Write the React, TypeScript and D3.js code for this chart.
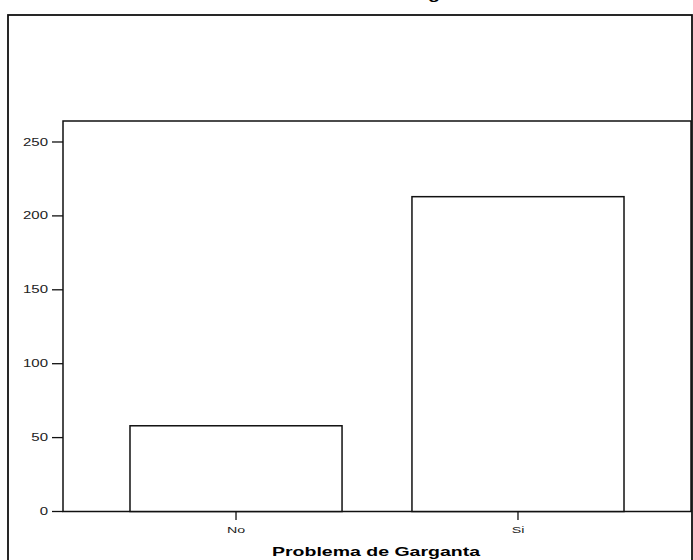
import React from "react";
import * as d3 from "d3";

const categories: string[] = ["No", "Si"];
const counts: number[] = [58, 213];
const yTicks: number[] = [0, 50, 100, 150, 200, 250];
const chartTitle = "Problema de Garganta";
const xAxisTitle = "Problema de Garganta";

const W = 693;
const H = 560;
const plot = { left: 63, right: 691, top: 121, bottom: 511.5 };
const SX = 1.5; // horizontal stretch of the original text

export default function App() {
  const x = d3
    .scaleBand<string>()
    .domain(categories)
    .range([plot.left, plot.right])
    .paddingInner(0.248)
    .paddingOuter(0.2376);
  const y = d3.scaleLinear().domain([0, 264.2]).range([plot.bottom, plot.top]);
  const cx = (plot.left + plot.right) / 2;
  const font = "Arial, 'Liberation Sans', Helvetica, sans-serif";

  return (
    <svg
      width={W}
      height={H}
      style={{ position: "absolute", left: 0, top: 0, background: "#fff" }}
      fontFamily={font}
    >
      <rect x={0} y={0} width={W} height={H} fill="#fff" />
      {/* outer frame */}
      <rect x={8} y={15} width={684} height={600} fill="none" stroke="#111" strokeWidth={1.8} />
      {/* clipped title */}
      <text
        transform={`translate(${cx - 1},-1) scale(${SX},1)`}
        textAnchor="middle"
        fontSize={13}
        fontWeight="bold"
        fill="#000"
      >
        {chartTitle}
      </text>
      {/* inner plot frame */}
      <rect
        x={plot.left}
        y={plot.top}
        width={plot.right - plot.left}
        height={plot.bottom - plot.top}
        fill="none"
        stroke="#111"
        strokeWidth={1.5}
      />
      {/* bars */}
      {categories.map((c, i) => (
        <rect
          key={c}
          x={x(c)!}
          y={y(counts[i])}
          width={x.bandwidth()}
          height={y(0) - y(counts[i])}
          fill="#fff"
          stroke="#111"
          strokeWidth={1.5}
        />
      ))}
      {/* y ticks */}
      {yTicks.map((t) => (
        <g key={t}>
          <line x1={52} x2={plot.left} y1={y(t)} y2={y(t)} stroke="#111" strokeWidth={1.3} />
          <text
            transform={`translate(48,${y(t) + 3.6}) scale(${SX},1)`}
            textAnchor="end"
            fontSize={10}
            fill="#222"
          >
            {t}
          </text>
        </g>
      ))}
      {/* x ticks */}
      {categories.map((c) => {
        const px = x(c)! + x.bandwidth() / 2;
        return (
          <g key={c}>
            <line x1={px} x2={px} y1={plot.bottom} y2={520} stroke="#111" strokeWidth={1.3} />
            <text
              transform={`translate(${px},533) scale(${SX},1)`}
              textAnchor="middle"
              fontSize={9.5}
              fill="#222"
            >
              {c}
            </text>
          </g>
        );
      })}
      {/* x axis title */}
      <text
        transform={`translate(${cx - 1},556) scale(${SX},1)`}
        textAnchor="middle"
        fontSize={13}
        fontWeight="bold"
        fill="#000"
      >
        {xAxisTitle}
      </text>
    </svg>
  );
}
